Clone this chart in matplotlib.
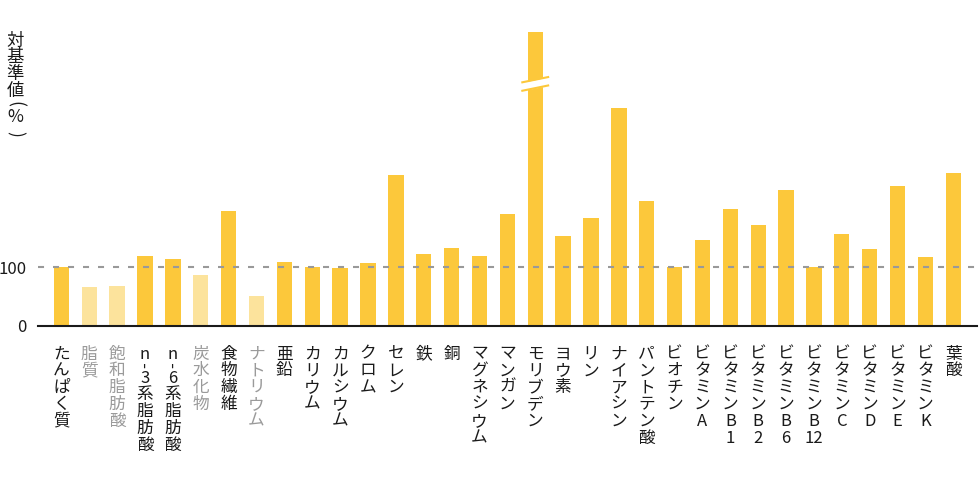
import numpy as np
import matplotlib
matplotlib.use('Agg')
from matplotlib import pyplot as plt

plt.rcParams['font.family'] = ['Noto Sans CJK JP', 'DejaVu Sans']

# Datos: % do valor de referência
categories = ['たんぱく質', '脂質', '飽和脂肪酸', 'n-3系脂肪酸', 'n-6系脂肪酸', '炭水化物',
              '食物繊維', 'ナトリウム', '亜鉛', 'カリウム', 'カルシウム', 'クロム', 'セレン',
              '鉄', '銅', 'マグネシウム', 'マンガン', 'モリブデン', 'ヨウ素', 'リン',
              'ナイアシン', 'パントテン酸', 'ビオチン', 'ビタミンA', 'ビタミンB1',
              'ビタミンB2', 'ビタミンB6', 'ビタミンB12', 'ビタミンC', 'ビタミンD',
              'ビタミンE', 'ビタミンK', '葉酸']
values = [100, 66, 67, 119, 113, 86, 196, 50, 108, 100, 99, 107, 258, 122, 133, 118,
          190, 502, 153, 184, 371, 213, 100, 146, 200, 171, 231, 100, 156, 130, 238, 117, 261]
# itens sem meta (barra clara, rótulo cinza)
muted = ['脂質', '飽和脂肪酸', '炭水化物', 'ナトリウム']
# barra cortada
broken = 'モリブデン'
break_value = 413
yticks = [0, 100]
ref_line = 100
ylabel = '対基準値(%)'

COR_FORTE = '#FCC83B'
COR_CLARA = '#FCE39C'
COR_TEXTO = '#1a1a1a'
COR_CINZA = '#9a9a9a'

W, H = 980, 490
fig = plt.figure(figsize=(W / 100, H / 100), dpi=100)
ax = fig.add_axes([38 / W, (H - 325.5) / H, 939 / W, (325.5 - 21.3) / H])

x = np.arange(len(categories))
cores = [COR_CLARA if c in muted else COR_FORTE for c in categories]
ax.bar(x, values, width=0.55, color=cores, zorder=2)

ax.axhline(ref_line, color='#999999', lw=1.5, linestyle=(0, (2.9, 4.3)), zorder=3)

# marca de corte na barra de molibdênio
i = categories.index(broken)
xs = np.array([i - 0.5, i + 0.5])
yc = break_value + 9.7 * (xs - i)
ax.fill_between(xs, yc - 7.2, yc + 7.2, color='white', lw=0, zorder=4)
ax.plot(xs, yc + 7.2, color=COR_FORTE, lw=1.5, zorder=5, solid_capstyle='butt')
ax.plot(xs, yc - 7.2, color=COR_FORTE, lw=1.5, zorder=5, solid_capstyle='butt')

ax.set_xlim(-0.84, 32.85)
ax.set_ylim(0, 520)
ax.set_xticks([])
ax.set_yticks(yticks)
ax.set_yticklabels([str(v) for v in yticks])
ax.tick_params(axis='y', length=0, pad=8, labelsize=12, labelcolor=COR_TEXTO)
for s in ['top', 'right', 'left']:
    ax.spines[s].set_visible(False)
ax.spines['bottom'].set_color(COR_TEXTO)
ax.spines['bottom'].set_linewidth(1.5)
ax.spines['bottom'].set_zorder(6)


def separar(texto):
    out = []
    for ch in texto:
        if ch.isdigit() and out and out[-1].isdigit():
            out[-1] += ch
        else:
            out.append(ch)
    return out


# rótulos verticais (um caractere por linha)
passo = 16.8
for k, nome in enumerate(categories):
    cor = COR_CINZA if nome in muted else COR_TEXTO
    y = 33
    anterior = None
    for t in separar(nome):
        if anterior is not None:
            y += 12 if (t == '-' or anterior == '-') else passo
        if t == '-':
            ax.annotate('-', xy=(k, 0), xycoords=ax.get_xaxis_transform(),
                        xytext=(0, -(y - 5.5)), textcoords='offset pixels',
                        rotation=90, ha='center', va='center', fontsize=12, color=cor)
        else:
            ax.annotate(t, xy=(k, 0), xycoords=ax.get_xaxis_transform(),
                        xytext=(0, -y), textcoords='offset pixels',
                        ha='center', va='baseline', fontsize=12, color=cor)
        anterior = t

# título do eixo y, vertical
yb = 45.5
for t in ylabel:
    if t == '(':
        fig.text(15 / W, 1 - 104 / H, '(', rotation=-90, rotation_mode='anchor',
                 ha='center', va='center', fontsize=12.5, color=COR_TEXTO)
        yb = 122
    elif t == ')':
        fig.text(15 / W, 1 - 133.5 / H, ')', rotation=-90, rotation_mode='anchor',
                 ha='center', va='center', fontsize=12.5, color=COR_TEXTO)
    elif t == '%':
        fig.text(15 / W, 1 - yb / H, '%', ha='center', va='baseline', fontsize=12.5, color=COR_TEXTO)
    else:
        fig.text(15 / W, 1 - yb / H, t, ha='center', va='baseline', fontsize=12.5, color=COR_TEXTO)
        yb += 16.7

fig.savefig('out.png', dpi=100)
